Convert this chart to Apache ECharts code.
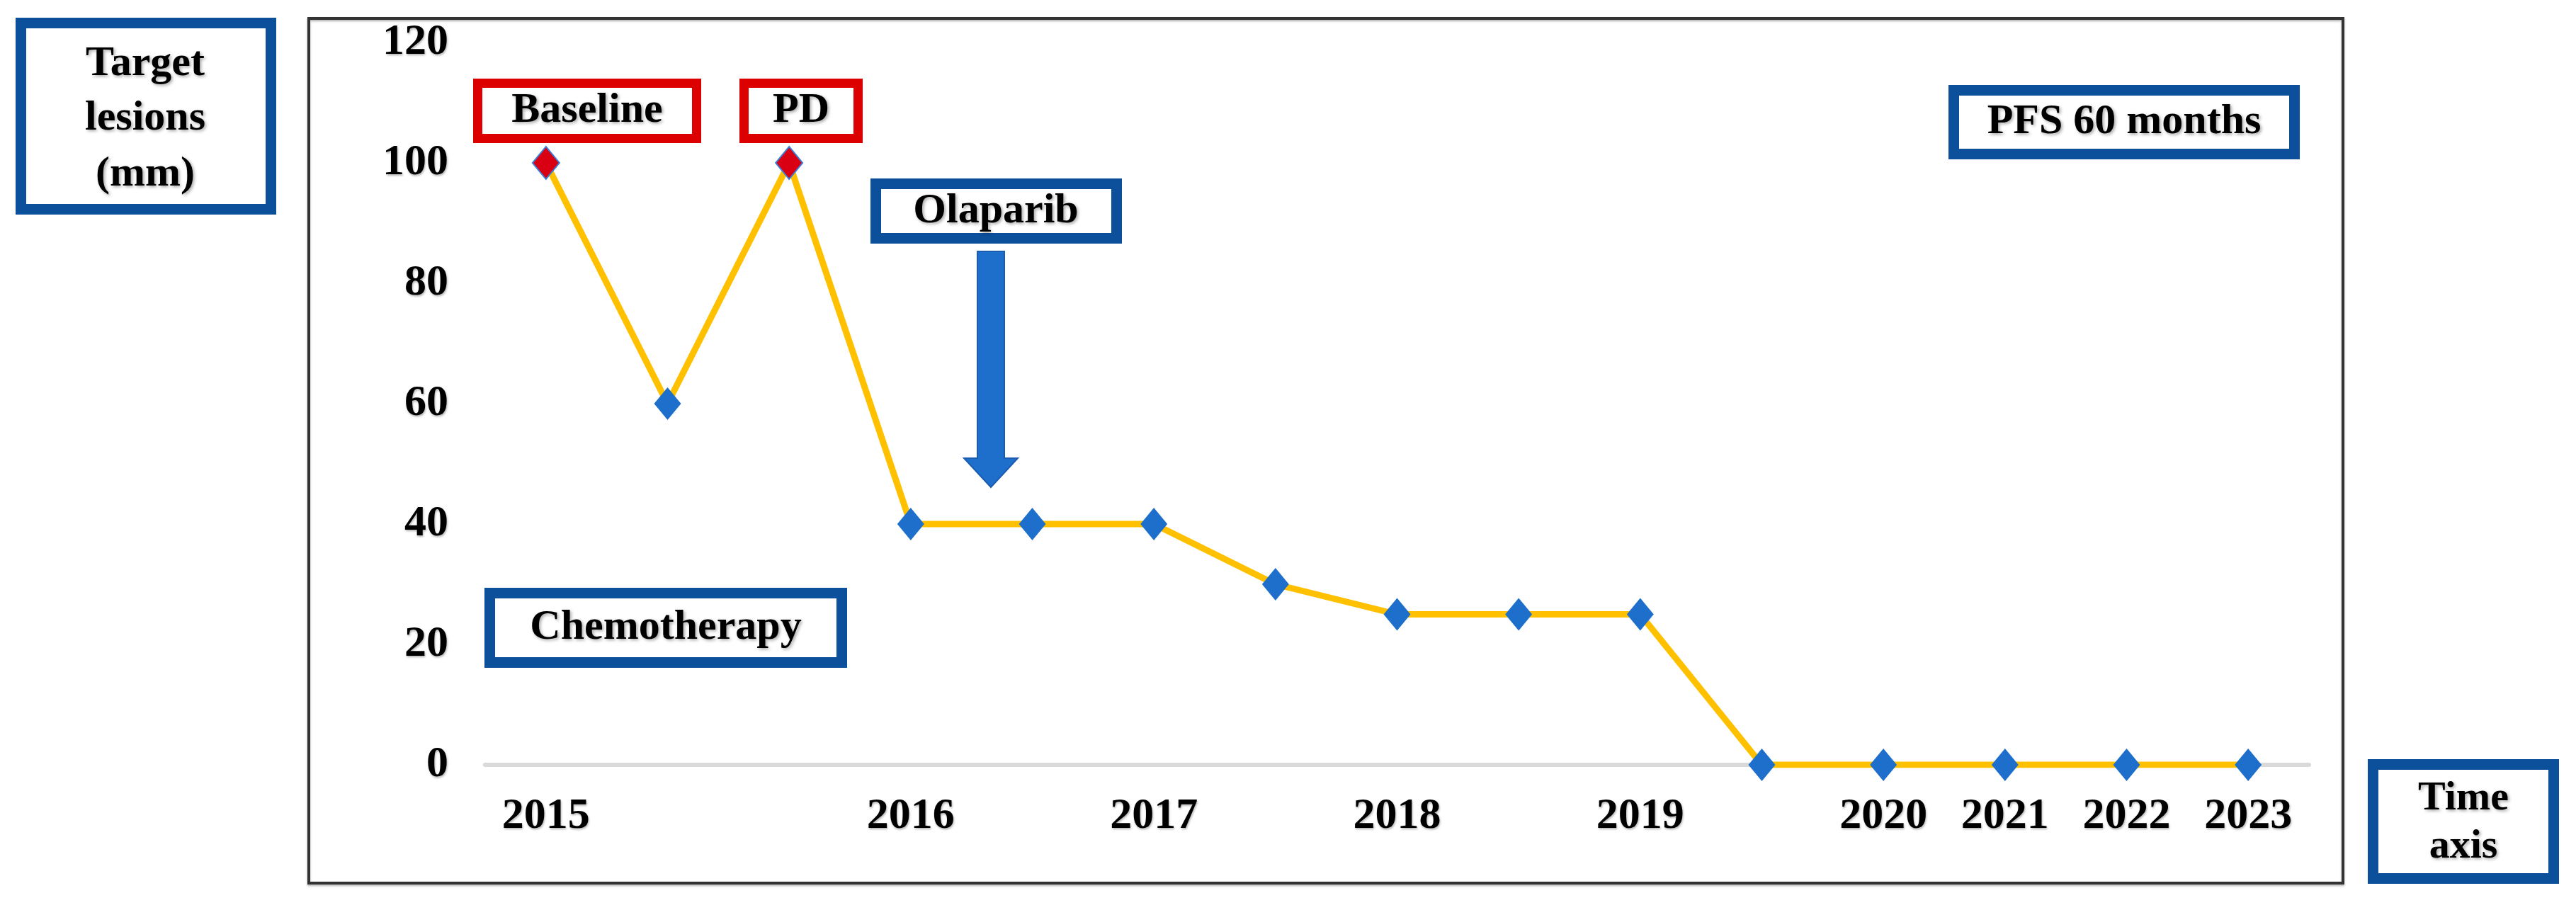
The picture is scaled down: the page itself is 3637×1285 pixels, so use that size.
<!DOCTYPE html>
<html>
<head>
<meta charset="utf-8">
<script src="https://cdn.jsdelivr.net/npm/echarts@6/dist/echarts.min.js"></script>
<style>html,body{margin:0;padding:0;background:#fff}#c{width:3637px;height:1285px}</style>
</head>
<body>
<div id="c"></div>
<script>
// ---- data ----
const categories = ['v1','v2','v3','v4','v5','v6','v7','v8','v9','v10','v11','v12','v13','v14','v15'];
const tickLabels = ['2015','','','2016','','2017','','2018','','2019','','2020','2021','2022','2023'];
const lesionValues = [100, 60, 100, 40, 40, 40, 30, 25, 25, 25, 0, 0, 0, 0, 0];
const redPoints = [0, 2];
const yTicks = [0, 20, 40, 60, 80, 100, 120];

const FONT = 'Liberation Serif';
const BLUE_BOX = '#0c4f9b';
const RED_BOX = '#dd0000';
const MARK_BLUE = '#1e6fcc';

const chart = echarts.init(document.getElementById('c'), null, {renderer: 'canvas'});

const seriesData = lesionValues.map((v, i) => redPoints.includes(i)
  ? {value: v, itemStyle: {color: '#d80012', borderColor: '#3a7fd8', borderWidth: 2}}
  : {value: v});

const txtStyle = (t, x, y, size) => ({
  type: 'text', x: x, y: y, z: 20,
  style: {text: t, fill: '#000', font: 'bold ' + size + 'px "' + FONT + '"',
    textAlign: 'center', textVerticalAlign: 'middle',
    textShadowColor: 'rgba(0,0,0,0.35)', textShadowBlur: 4, textShadowOffsetX: 2, textShadowOffsetY: 2}
});
function box(x, y, w, h, color, lw) {
  return {type: 'rect', z: 15, shape: {x: x + lw/2, y: y + lw/2, width: w - lw, height: h - lw},
    style: {fill: '#fff', stroke: color, lineWidth: lw}};
}

const graphics = [
  // plot frame
  {type: 'rect', z: 1, silent: true, shape: {x: 436, y: 26, width: 2872, height: 1221},
   style: {fill: 'none', stroke: '#333', lineWidth: 4, shadowColor: 'rgba(0,0,0,0.3)', shadowBlur: 3, shadowOffsetY: 2}},
  // Target lesions
  box(22, 25, 368, 278, BLUE_BOX, 15),
  txtStyle('Target', 205, 90, 60), txtStyle('lesions', 205, 167, 60), txtStyle('(mm)', 205, 246, 60),
  // Time axis
  box(3343, 1072, 270, 176, BLUE_BOX, 15),
  txtStyle('Time', 3478, 1128, 58), txtStyle('axis', 3478, 1196, 58),
  // Baseline / PD
  box(668, 111, 322, 91, RED_BOX, 13), txtStyle('Baseline', 829, 156, 60),
  box(1044, 111, 174, 91, RED_BOX, 13), txtStyle('PD', 1131, 156, 60),
  // Olaparib
  box(1229, 252, 355, 92, BLUE_BOX, 15), txtStyle('Olaparib', 1406, 298, 60),
  // arrow
  {type: 'polygon', z: 15, shape: {points: [[1380,355],[1418,355],[1418,647],[1437,647],[1399,688],[1361,647],[1380,647]]},
   style: {fill: MARK_BLUE, stroke: '#1a5cb0', lineWidth: 2}},
  // Chemotherapy
  box(684, 830, 512, 113, BLUE_BOX, 15), txtStyle('Chemotherapy', 940, 886, 60),
  // PFS
  box(2751, 120, 496, 105, BLUE_BOX, 15), txtStyle('PFS 60 months', 2999, 172, 60)
];

chart.setOption({
  animation: false,
  backgroundColor: '#fff',
  grid: {left: 685, right: 377, top: 60, bottom: 205, containLabel: false},
  xAxis: {
    type: 'category', data: categories, boundaryGap: true,
    axisLine: {lineStyle: {color: '#d9d9d9', width: 6}},
    axisTick: {show: false},
    axisLabel: {interval: 0, margin: 42, color: '#000', fontFamily: FONT, fontWeight: 'bold', fontSize: 62,
      formatter: (v, i) => tickLabels[i],
      textShadowColor: 'rgba(0,0,0,0.3)', textShadowBlur: 3, textShadowOffsetX: 1, textShadowOffsetY: 2}
  },
  yAxis: {
    type: 'value', min: yTicks[0], max: yTicks[yTicks.length - 1], interval: yTicks[1] - yTicks[0],
    axisLine: {show: false}, axisTick: {show: false}, splitLine: {show: false},
    axisLabel: {margin: 52, color: '#000', fontFamily: FONT, fontWeight: 'bold', fontSize: 62,
      textShadowColor: 'rgba(0,0,0,0.3)', textShadowBlur: 3, textShadowOffsetX: 1, textShadowOffsetY: 2}
  },
  series: [{
    type: 'line', data: seriesData, z: 10,
    lineStyle: {color: '#ffc000', width: 9},
    symbol: 'diamond', symbolSize: [38, 46], showAllSymbol: true,
    itemStyle: {color: MARK_BLUE}
  }],
  graphic: graphics
});
</script>
</body>
</html>
